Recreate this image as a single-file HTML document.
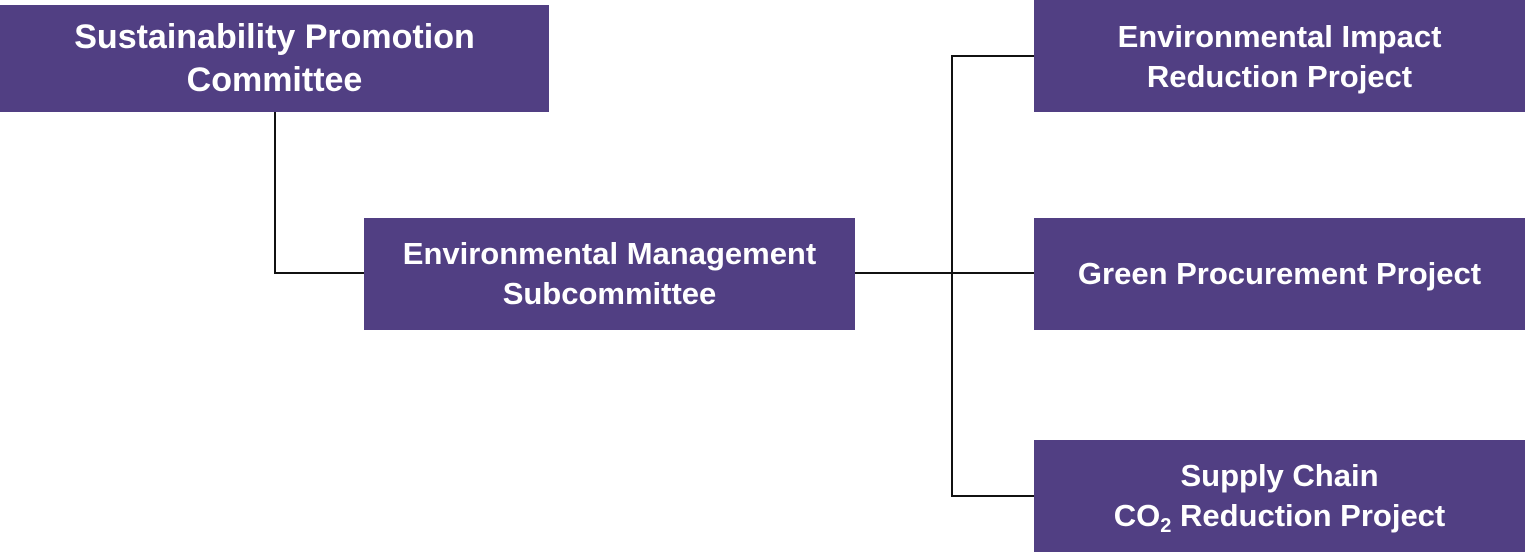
<!DOCTYPE html>
<html><head><meta charset="utf-8"><style>
html,body{margin:0;padding:0;background:#fff;}
body{width:1525px;height:557px;position:relative;overflow:hidden;font-family:"Liberation Sans",sans-serif;}
.b{position:absolute;background:#513f83;color:#fff;font-weight:bold;display:flex;align-items:center;justify-content:center;text-align:center;line-height:40px;font-size:31px;}
.l{position:absolute;background:#111;}
sub{font-size:20px;line-height:0;vertical-align:-6px;}
</style></head><body>
<div class="b" style="left:0;top:5px;width:549px;height:107px;font-size:34px;line-height:43px;"><div>Sustainability Promotion<br>Committee</div></div>
<div class="b" style="left:364px;top:218px;width:491px;height:112px;"><div>Environmental Management<br>Subcommittee</div></div>
<div class="b" style="left:1034px;top:0;width:491px;height:112px;padding-top:2px;box-sizing:border-box;"><div>Environmental Impact<br>Reduction Project</div></div>
<div class="b" style="left:1034px;top:218px;width:491px;height:112px;"><div>Green Procurement Project</div></div>
<div class="b" style="left:1034px;top:440px;width:491px;height:112px;"><div>Supply Chain<br>CO<sub>2</sub> Reduction Project</div></div>
<div class="l" style="left:274px;top:112px;width:2px;height:162px;"></div>
<div class="l" style="left:274px;top:272px;width:90px;height:2px;"></div>
<div class="l" style="left:855px;top:272px;width:179px;height:2px;"></div>
<div class="l" style="left:951px;top:55px;width:2px;height:442px;"></div>
<div class="l" style="left:951px;top:55px;width:83px;height:2px;"></div>
<div class="l" style="left:951px;top:495px;width:83px;height:2px;"></div>
</body></html>
